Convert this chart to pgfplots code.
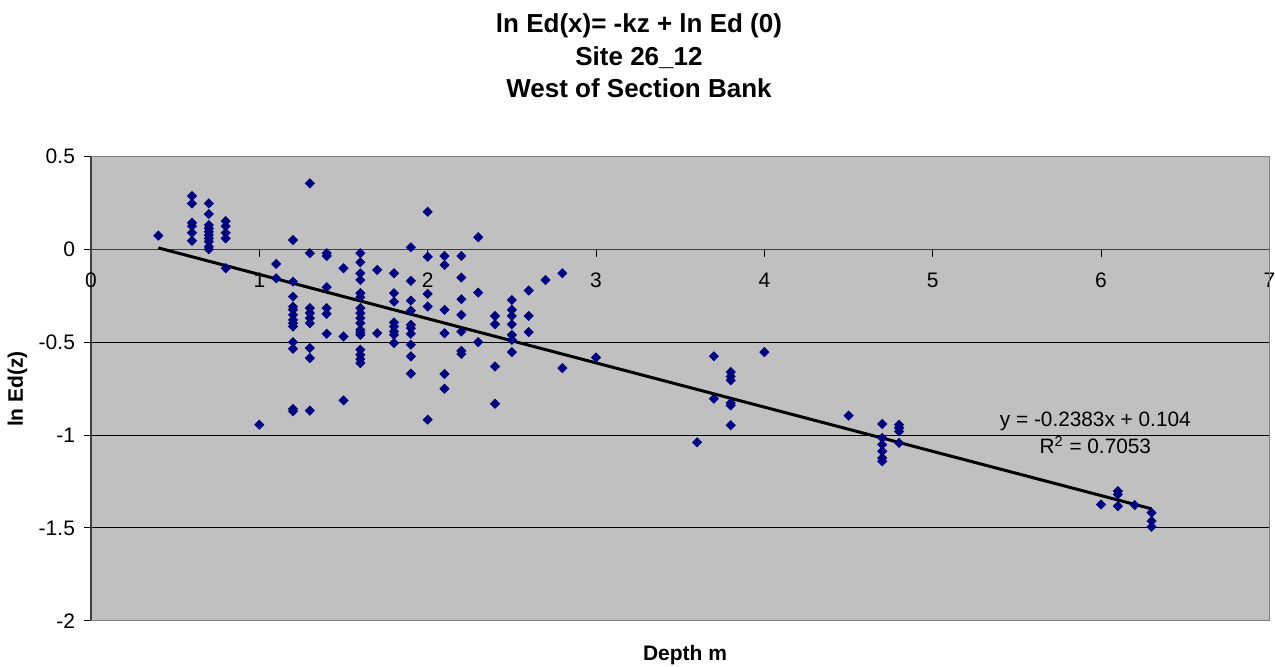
\documentclass[border=0pt]{standalone}
\usepackage{pgfplots}
\pgfplotsset{compat=1.18}
\usepackage{fontspec}
\setmainfont{Liberation Sans}
\definecolor{bg}{HTML}{C0C0C0}
\definecolor{navy}{HTML}{000080}
\definecolor{framec}{HTML}{808080}
\definecolor{axl}{HTML}{404040}
\pgfplotstableread{
x y
0.4 0.075
0.6 0.288
0.6 0.248
0.6 0.144
0.6 0.126
0.6 0.090
0.6 0.047
0.7 0.248
0.7 0.191
0.7 0.132
0.7 0.114
0.7 0.096
0.7 0.078
0.7 0.060
0.7 0.042
0.7 0.015
0.7 0.001
0.8 0.153
0.8 0.126
0.8 0.090
0.8 0.060
0.8 -0.101
1.0 -0.944
1.1 -0.078
1.1 -0.155
1.2 0.051
1.2 -0.173
1.2 -0.254
1.2 -0.308
1.2 -0.325
1.2 -0.352
1.2 -0.379
1.2 -0.397
1.2 -0.415
1.2 -0.499
1.2 -0.535
1.2 -0.859
1.2 -0.872
1.3 0.356
1.3 -0.020
1.3 -0.316
1.3 -0.343
1.3 -0.370
1.3 -0.397
1.3 -0.531
1.3 -0.585
1.3 -0.868
1.4 -0.020
1.4 -0.035
1.4 -0.203
1.4 -0.316
1.4 -0.347
1.4 -0.454
1.5 -0.101
1.5 -0.469
1.5 -0.813
1.6 -0.020
1.6 -0.069
1.6 -0.128
1.6 -0.164
1.6 -0.235
1.6 -0.257
1.6 -0.316
1.6 -0.343
1.6 -0.370
1.6 -0.397
1.6 -0.433
1.6 -0.447
1.6 -0.460
1.6 -0.540
1.6 -0.567
1.6 -0.590
1.6 -0.612
1.7 -0.110
1.7 -0.451
1.8 -0.128
1.8 -0.235
1.8 -0.281
1.8 -0.393
1.8 -0.415
1.8 -0.442
1.8 -0.460
1.8 -0.504
1.9 0.012
1.9 -0.169
1.9 -0.275
1.9 -0.329
1.9 -0.406
1.9 -0.424
1.9 -0.454
1.9 -0.513
1.9 -0.576
1.9 -0.669
2.0 0.203
2.0 -0.039
2.0 -0.239
2.0 -0.307
2.0 -0.917
2.1 -0.035
2.1 -0.083
2.1 -0.325
2.1 -0.451
2.1 -0.671
2.1 -0.750
2.2 -0.035
2.2 -0.151
2.2 -0.268
2.2 -0.352
2.2 -0.442
2.2 -0.546
2.2 -0.563
2.3 0.066
2.3 -0.232
2.3 -0.499
2.4 -0.358
2.4 -0.403
2.4 -0.630
2.4 -0.831
2.5 -0.272
2.5 -0.325
2.5 -0.358
2.5 -0.403
2.5 -0.460
2.5 -0.487
2.5 -0.553
2.6 -0.221
2.6 -0.358
2.6 -0.445
2.7 -0.164
2.8 -0.128
2.8 -0.639
3.0 -0.582
3.6 -1.039
3.7 -0.575
3.7 -0.804
3.8 -0.660
3.8 -0.684
3.8 -0.705
3.8 -0.827
3.8 -0.840
3.8 -0.947
4.0 -0.553
4.5 -0.895
4.7 -0.940
4.7 -1.015
4.7 -1.051
4.7 -1.087
4.7 -1.123
4.7 -1.141
4.8 -0.944
4.8 -0.961
4.8 -0.980
4.8 -1.042
6.0 -1.374
6.1 -1.302
6.1 -1.320
6.1 -1.383
6.2 -1.377
6.3 -1.418
6.3 -1.463
6.3 -1.494
}\datatable
\begin{document}
\begin{tikzpicture}
\begin{axis}[
  at={(45.5pt,22.65pt)}, anchor=south west,
  scale only axis, width=589.2pt, height=232pt,
  xmin=0, xmax=7, ymin=-2, ymax=0.5,
  axis x line=middle, axis y line=left,
  axis line style={-, draw=axl, line width=0.6pt},
  axis background/.style={fill=bg},
  xtick={0,1,2,3,4,5,6,7}, xticklabels={0,1,2,3,4,5,6,7},
  ytick={-2,-1.5,-1,-0.5,0,0.5}, yticklabels={-2,-1.5,-1,-0.5,0,0.5},
  hide obscured x ticks=false, hide obscured y ticks=false,
  tick align=outside, major tick length=3.5pt,
  tick style={draw=black, line width=0.5pt},
  ymajorgrids, grid style={black, line width=0.5pt},
  tick label style={font=\fontsize{10.5}{12}\selectfont},
  xticklabel style={anchor=north, yshift=-4.5pt},
  yticklabel style={anchor=east, xshift=-1pt},
  clip=false,
]
\addplot[only marks, mark=square*, mark size=1.6pt,
  mark options={rotate=45, fill=navy, draw=navy}] table[x=x,y=y] {\datatable};
\addplot[black, line width=1.5pt, no marks] coordinates {(0.4,0.00868) (6.3,-1.39729)};
\draw[framec, line width=0.5pt] (rel axis cs:0,1) -- (rel axis cs:1,1) -- (rel axis cs:1,0) -- (rel axis cs:0,0);
\node[anchor=base, font=\fontsize{10.4}{12}\selectfont] at (axis cs:5.966,-0.953) {y = -0.2383x + 0.104};
\node[anchor=base, font=\fontsize{10.4}{12}\selectfont] at (axis cs:5.966,-1.101) {R\textsuperscript{2} = 0.7053};
\end{axis}
\node[font=\bfseries\fontsize{10.5}{12}\selectfont] at (342.5pt,5.5pt) {Depth m};
\node[rotate=90, font=\bfseries\fontsize{10.5}{12}\selectfont] at (8.75pt,138.5pt) {ln Ed(z)};
\node[anchor=base, font=\bfseries\fontsize{13}{15}\selectfont] at (319.5pt,316.65pt) {ln Ed(x)= -kz + ln Ed (0)};
\node[anchor=base, font=\bfseries\fontsize{13}{15}\selectfont] at (319.5pt,300.5pt) {Site 26\_12};
\node[anchor=base, font=\bfseries\fontsize{13}{15}\selectfont] at (319.5pt,284.5pt) {West of Section Bank};
\pgfresetboundingbox
\useasboundingbox (0,0) rectangle (637.5pt,333pt);
\end{tikzpicture}
\end{document}
